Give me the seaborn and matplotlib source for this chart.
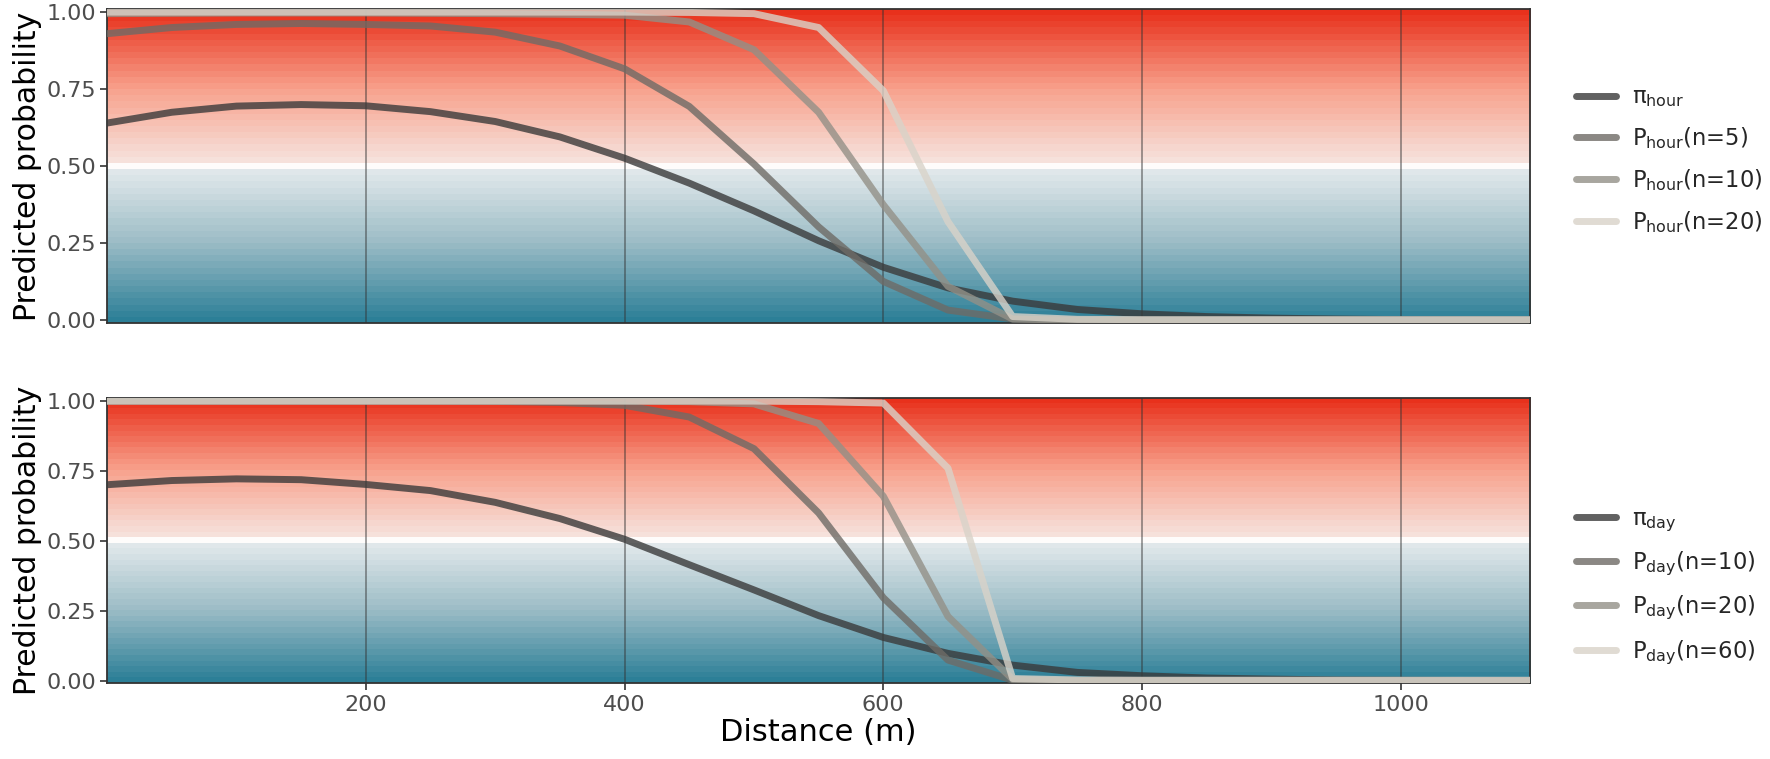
import numpy as np
import pandas as pd
import matplotlib
matplotlib.use("Agg")
import matplotlib.pyplot as plt
from matplotlib.colors import LinearSegmentedColormap
import seaborn as sns

# distance grid (m)
distance = [0, 50, 100, 150, 200, 250, 300, 350, 400, 450, 500, 550,
            600, 650, 700, 750, 800, 850, 900, 950, 1000, 1050, 1100]

# hourly model
pi_hour = [0.640, 0.675, 0.695, 0.700, 0.696, 0.677, 0.645, 0.595, 0.526, 0.445, 0.355, 0.258,
           0.172, 0.105, 0.062, 0.035, 0.021, 0.012, 0.007, 0.004, 0.002, 0.001, 0.001]
p_hour_5 = [0.930, 0.950, 0.960, 0.963, 0.960, 0.955, 0.935, 0.890, 0.816, 0.694, 0.507, 0.303,
            0.126, 0.033, 0.004, 0.001, 0.0, 0.0, 0.0, 0.0, 0.0, 0.0, 0.0]
p_hour_10 = [0.995, 0.996, 0.997, 0.997, 0.997, 0.996, 0.995, 0.993, 0.990, 0.968, 0.878, 0.675,
             0.375, 0.110, 0.004, 0.0, 0.0, 0.0, 0.0, 0.0, 0.0, 0.0, 0.0]
p_hour_20 = [1.0, 1.0, 1.0, 1.0, 1.0, 1.0, 1.0, 1.0, 1.0, 0.999, 0.995, 0.950,
             0.745, 0.320, 0.012, 0.003, 0.002, 0.002, 0.002, 0.002, 0.002, 0.002, 0.002]
hour_labels = ["π$_{\\mathrm{hour}}$", "P$_{\\mathrm{hour}}$(n=5)",
               "P$_{\\mathrm{hour}}$(n=10)", "P$_{\\mathrm{hour}}$(n=20)"]

# daily model
pi_day = [0.701, 0.716, 0.722, 0.719, 0.702, 0.680, 0.638, 0.580, 0.506, 0.415, 0.325, 0.233,
          0.155, 0.098, 0.056, 0.030, 0.018, 0.010, 0.006, 0.003, 0.002, 0.001, 0.001]
p_day_10 = [1.0, 1.0, 1.0, 1.0, 1.0, 1.0, 0.999, 0.995, 0.985, 0.943, 0.830, 0.600,
            0.297, 0.074, 0.002, 0.0, 0.0, 0.0, 0.0, 0.0, 0.0, 0.0, 0.0]
p_day_20 = [1.0, 1.0, 1.0, 1.0, 1.0, 1.0, 1.0, 1.0, 1.0, 0.998, 0.990, 0.920,
            0.660, 0.230, 0.005, 0.0, 0.0, 0.0, 0.0, 0.0, 0.0, 0.0, 0.0]
p_day_60 = [1.0, 1.0, 1.0, 1.0, 1.0, 1.0, 1.0, 1.0, 1.0, 1.0, 1.0, 0.998,
            0.993, 0.760, 0.008, 0.003, 0.002, 0.002, 0.002, 0.002, 0.002, 0.002, 0.002]
day_labels = ["π$_{\\mathrm{day}}$", "P$_{\\mathrm{day}}$(n=10)",
              "P$_{\\mathrm{day}}$(n=20)", "P$_{\\mathrm{day}}$(n=60)"]

x_ticks = [200, 400, 600, 800, 1000]
y_ticks = [0.0, 0.25, 0.5, 0.75, 1.0]
line_colors = ["#3a3a3a", "#6e6b66", "#939087", "#d9d3c9"]

sns.set_theme(style="white")
plt.rcParams["font.family"] = ["DejaVu Sans"]
plt.rcParams["mathtext.default"] = "regular"

# teal -> (white band at 0.5) -> red, drawn as stripes
grad_cmap = LinearSegmentedColormap.from_list(
    "rwb",
    [(0.0, "#2c7f97"), (0.25, "#9bbcc6"), (0.49, "#e4eaec"), (0.5, "#ffffff"),
     (0.51, "#f6e4df"), (0.75, "#f8a28d"), (1.0, "#e8311c")],
    N=512)


def make_long(series, labels):
    frames = []
    for vals, lab in zip(series, labels):
        frames.append(pd.DataFrame({"distance": distance, "prob": vals, "series": lab}))
    return pd.concat(frames, ignore_index=True)


def draw_panel(ax, series, labels, ylim, show_x, legend_y):
    bands = np.linspace(0, 1, 51).reshape(-1, 1)
    ax.imshow(bands, cmap=grad_cmap, origin="lower", aspect="auto",
              extent=[0, 1100, ylim[0], ylim[1]], interpolation="nearest", zorder=0)
    for xv in x_ticks:
        ax.axvline(xv, color="#333333", alpha=0.5, lw=1.3, zorder=1)

    df = make_long(series, labels)
    sns.lineplot(data=df, x="distance", y="prob", hue="series", hue_order=labels,
                 palette=dict(zip(labels, line_colors)), linewidth=5, alpha=0.8,
                 ax=ax, zorder=3)

    ax.set_xlim(0, 1100)
    ax.set_ylim(*ylim)
    ax.set_yticks(y_ticks)
    ax.set_yticklabels([f"{v:.2f}" for v in y_ticks], fontsize=16, color="#4d4d4d")
    ax.set_xticks(x_ticks)
    if show_x:
        ax.set_xticklabels([str(v) for v in x_ticks], fontsize=16, color="#4d4d4d")
        ax.set_xlabel("Distance (m)", fontsize=22, color="black", labelpad=2)
        ax.tick_params(axis="x", length=5, width=1.2, color="#333333", bottom=True)
    else:
        ax.set_xticklabels([])
        ax.set_xlabel("")
        ax.tick_params(axis="x", length=0)
    ax.tick_params(axis="y", length=5, width=1.2, color="#333333", left=True, pad=3)
    ax.set_ylabel("Predicted probability", fontsize=21.5, color="black", labelpad=3)
    for sp in ax.spines.values():
        sp.set_color("#333333")
        sp.set_linewidth(1.3)

    handles, labs = ax.get_legend_handles_labels()
    ax.get_legend().remove()
    fig.legend(handles, labs, loc="center left", bbox_to_anchor=(0.885, legend_y),
               frameon=False, fontsize=16.3, handlelength=1.8, handletextpad=0.7,
               labelspacing=0.7, borderaxespad=0)


fig = plt.figure(figsize=(17.7, 7.59), dpi=100)
ax_top = fig.add_axes([0.0605, 0.5744, 0.804, 0.4137])
ax_bot = fig.add_axes([0.0605, 0.1001, 0.804, 0.3755])

draw_panel(ax_top, [pi_hour, p_hour_5, p_hour_10, p_hour_20], hour_labels,
           (-0.009, 1.01), False, 0.789)
draw_panel(ax_bot, [pi_day, p_day_10, p_day_20, p_day_60], day_labels,
           (-0.008, 1.011), True, 0.227)

fig.savefig("out.png", dpi=100)
plt.close(fig)
